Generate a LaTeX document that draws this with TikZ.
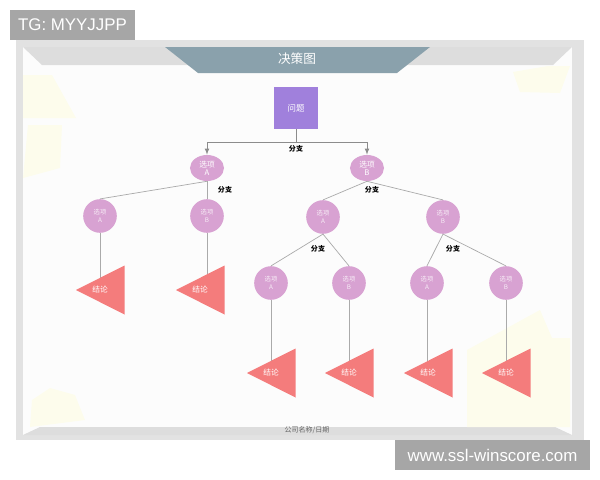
\documentclass[tikz,border=0pt]{standalone}
\usepackage{fontspec}
\setmainfont{Noto Sans CJK SC}
\newfontfamily\markfont{Liberation Sans}
\usetikzlibrary{calc}
\usetikzlibrary{shapes.geometric}
\tikzset{>=latex}

\definecolor{framegray}{RGB}{226,226,226}
\definecolor{bandgray}{RGB}{221,221,221}
\definecolor{paper}{RGB}{252,252,252}
\definecolor{titleslate}{RGB}{138,161,172}
\definecolor{qpurple}{RGB}{160,128,220}
\definecolor{optpink}{RGB}{216,162,210}
\definecolor{conred}{RGB}{244,124,124}
\definecolor{linegray}{RGB}{170,170,170}
\definecolor{decoyellow}{RGB}{253,252,236}
\definecolor{markgray}{RGB}{166,166,166}

\tikzset{
  question/.style={rectangle,fill=qpurple,minimum width=1.075cm,
    minimum height=1.05cm,inner sep=0pt,text=white,
    font=\fontsize{6}{7}\selectfont},
  optfirst/.style={ellipse,fill=optpink,minimum width=0.85cm,
    minimum height=0.65cm,inner sep=0pt,text=white,align=center,
    font=\fontsize{5.5}{6}\selectfont},
  option/.style={circle,fill=optpink,minimum size=0.84cm,inner sep=0pt,
    text=white!80!optpink,align=center,font=\fontsize{4.5}{5.5}\selectfont},
  concl/.style={text=white,inner sep=0pt,font=\fontsize{5.5}{6}\selectfont},
  branch/.style={inner sep=0pt,font=\bfseries\fontsize{5}{6}\selectfont},
  link/.style={draw=linegray,line width=0.5pt},
  watermark/.style={fill=markgray,text=white,minimum height=0.75cm,
    inner sep=0pt,font=\markfont\fontsize{12}{12}\selectfont}
}

\begin{document}
\begin{tikzpicture}[x=0.025cm,y=-0.025cm]
    \useasboundingbox (0,0) rectangle (600,480);

    % frame and bands
    \fill [framegray] (16,40) rectangle (584,440);
    \fill [paper] (23,47) rectangle (572,435);
    \fill [bandgray] (23,47) -- (572,47) -- (553,65) -- (42,65) -- cycle;
    \fill [bandgray] (23,435) -- (40,427) -- (555,427) -- (572,435) -- cycle;

    % faint background shapes
    \fill [decoyellow] (23,75) -- (52,75) -- (76,118) -- (23,118) -- cycle;
    \fill [decoyellow] (28,125) -- (62,125) -- (60,168) -- (23,178) -- cycle;
    \fill [decoyellow] (513,72) -- (548,66) -- (570,66) -- (560,93) -- (520,92) -- cycle;
    \fill [decoyellow] (32,400) -- (50,388) -- (75,395) -- (85,420) -- (30,427) -- cycle;
    \fill [decoyellow] (467,350) -- (540,310) -- (552,338) -- (570,338)
      -- (570,427) -- (467,427) -- cycle;

    % title
    \fill [titleslate] (165,47) -- (430,47) -- (397,73) -- (198,73) -- cycle;
    \node [text=white,font=\fontsize{9}{10}\selectfont] (title) at (297,59) {决策图};
    \node [text=black!60,font=\fontsize{5}{6}\selectfont] (footer) at (307,430) {公司名称/日期};

    % tree nodes
    \node [question] (q) at (296,108) {问题};

    \node [optfirst] (a) at (207,168) {选项\\A};
    \node [optfirst] (b) at (367,168) {选项\\B};

    \node [option] (aa) at (100,216) {选项\\A};
    \node [option] (ab) at (207,216) {选项\\B};
    \node [option] (ba) at (323,217) {选项\\A};
    \node [option] (bb) at (443,217) {选项\\B};

    \node [option] (baa) at (271,283) {选项\\A};
    \node [option] (bab) at (349,283) {选项\\B};
    \node [option] (bba) at (427,283) {选项\\A};
    \node [option] (bbb) at (506,283) {选项\\B};

    \coordinate (taa) at (100,290);
    \coordinate (tab) at (200,290);
    \coordinate (tbaa) at (271,373);
    \coordinate (tbab) at (349,373);
    \coordinate (tbba) at (428,373);
    \coordinate (tbbb) at (506,373);

    % connectors
    \coordinate (qj) at (296,142);
    \draw [link,draw=black!45] (q) -- (qj);
    \draw [link,draw=black!45,->] (qj) -| (a);
    \draw [link,draw=black!45,->] (qj) -| (b);

    \draw [link] (a.south) -- (aa.north);
    \draw [link] (a.south) -- (ab.north);
    \draw [link] (b.south) -- (ba.north);
    \draw [link] (b.south) -- (bb.north);
    \draw [link] (ba.south) -- (baa.north);
    \draw [link] (ba.south) -- (bab.north);
    \draw [link] (bb.south) -- (bba.north);
    \draw [link] (bb.south) -- (bbb.north);

    \draw [link] (aa.south) -- (aa.south |- taa);
    \draw [link] (ab.south) -- (ab.south |- tab);
    \draw [link] (baa.south) -- (baa.south |- tbaa);
    \draw [link] (bab.south) -- (bab.south |- tbab);
    \draw [link] (bba.south) -- (bba.south |- tbba);
    \draw [link] (bbb.south) -- (bbb.south |- tbbb);

    % conclusions
    \foreach \t in {taa,tab,tbaa,tbab,tbba,tbbb} {
      \fill [conred] ($(\t)+(-24,0)$) -- ($(\t)+(24.5,-24.5)$)
        -- ($(\t)+(24.5,24.5)$) -- cycle;
      \node [concl] (l\t) at (\t) {结论};
    }

    % branch labels
    \node [branch] (lq) at (296,149) {分支};
    \node [branch] (la) at (225,190) {分支};
    \node [branch] (lb) at (372,190) {分支};
    \node [branch] (lba) at (318,249) {分支};
    \node [branch] (lbb) at (453,249) {分支};

    % watermarks
    \node [watermark,minimum width=3.125cm] (tg) at (72.5,25) {TG: MYYJJPP};
    \node [watermark,minimum width=4.875cm] (site) at (492.5,455) {www.ssl-winscore.com};
\end{tikzpicture}
\end{document}
